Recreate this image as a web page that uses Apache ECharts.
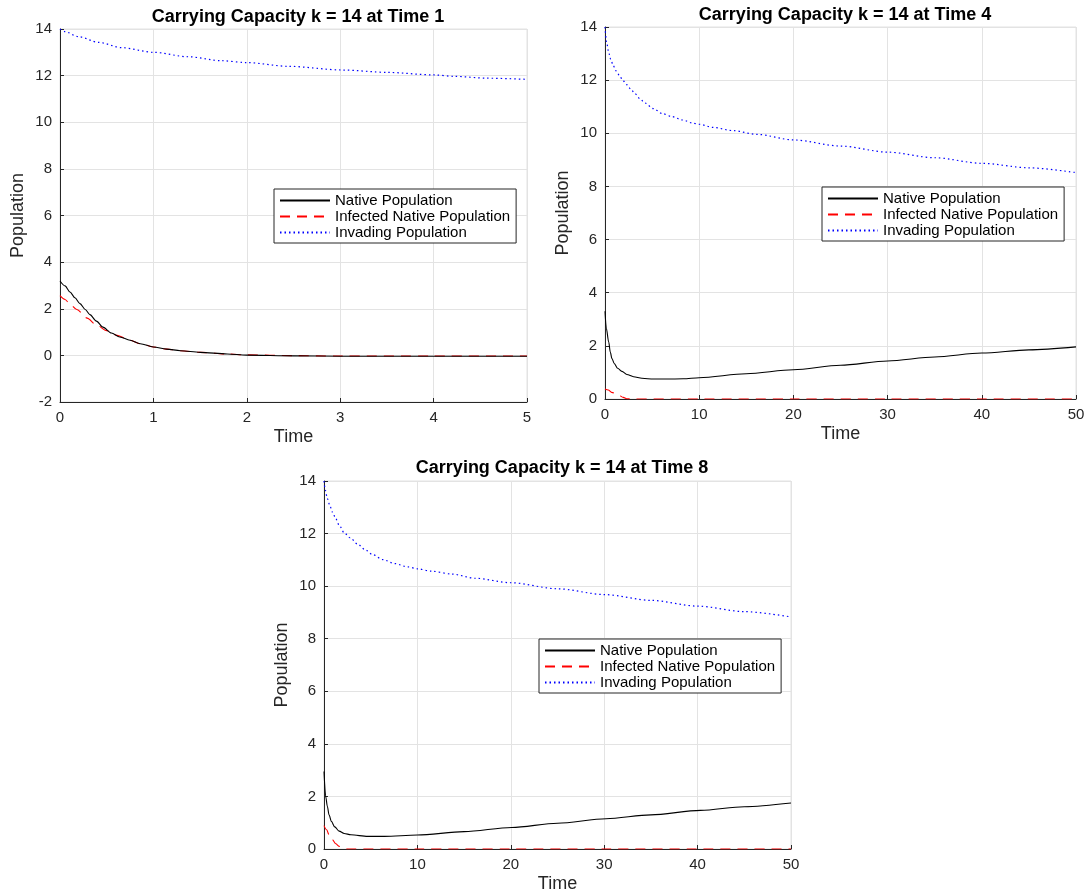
<!DOCTYPE html>
<html>
<head>
<meta charset="utf-8">
<script src="https://cdn.jsdelivr.net/npm/echarts@6/dist/echarts.min.js"></script>
<style>
  html, body { margin: 0; padding: 0; background: #fff; }
  #chart { width: 1091px; height: 894px; }
</style>
</head>
<body>
<div id="chart"></div>
<script>
// Series names and panel titles
const seriesNames = ['Native Population', 'Infected Native Population', 'Invading Population'];
const panelTitles = [
  'Carrying Capacity k = 14 at Time 1',
  'Carrying Capacity k = 14 at Time 4',
  'Carrying Capacity k = 14 at Time 8'
];

// Panel 1: time 0..5
const native1Time   = [0, 0.054, 0.107, 0.16, 0.214, 0.27, 0.32, 0.39, 0.46, 0.55, 0.64, 0.75, 0.86, 1.0, 1.14, 1.29, 1.5, 1.79, 2.0, 2.5, 3.0, 4.0, 5.0];
const native1       = [3.19, 2.98, 2.72, 2.47, 2.22, 1.97, 1.75, 1.47, 1.21, 0.96, 0.79, 0.65, 0.5, 0.36, 0.27, 0.2, 0.13, 0.06, 0.01, -0.02, -0.04, -0.04, -0.04];
const infected1Time = [0, 0.054, 0.107, 0.18, 0.29, 0.39, 0.5, 0.61, 0.75, 0.86, 1.0, 1.14, 1.29, 1.5, 1.79, 2.0, 2.5, 3.0, 4.0, 5.0];
const infected1     = [2.56, 2.4, 2.2, 1.97, 1.6, 1.3, 1.06, 0.86, 0.65, 0.5, 0.36, 0.27, 0.2, 0.13, 0.06, 0.02, -0.01, -0.03, -0.03, -0.03];
const invader1Time  = [0, 0.05, 0.2, 0.41, 0.66, 1.0, 1.37, 1.73, 2.0, 2.44, 3.03, 3.5, 4.0, 4.22, 4.57, 5.0];
const invader1      = [14, 13.89, 13.67, 13.43, 13.2, 13.0, 12.81, 12.64, 12.56, 12.4, 12.24, 12.14, 12.03, 11.97, 11.89, 11.84];

// Panel 2: time 0..50
const native2Time   = [0, 0.14, 0.39, 0.56, 0.74, 0.99, 1.34, 1.8, 2.32, 3.03, 3.92, 5.15, 6.55, 8.3, 10, 15, 20, 25, 30, 35, 40, 45, 50];
const native2       = [3.3, 2.66, 2.15, 1.77, 1.52, 1.33, 1.16, 1.04, 0.92, 0.84, 0.78, 0.75, 0.75, 0.76, 0.8, 0.95, 1.1, 1.27, 1.43, 1.58, 1.73, 1.85, 1.96];
const infected2Time = [0, 0.35, 0.7, 1.4, 1.94, 2.3, 2.8, 10, 20, 30, 40, 50];
const infected2     = [0.38, 0.34, 0.25, 0.16, 0.06, 0.01, 0, 0, 0, 0, 0, 0];
const invader2Time  = [0, 0.18, 0.39, 0.6, 0.88, 1.17, 1.52, 1.87, 2.3, 2.72, 3.18, 3.71, 4.24, 5.12, 6.11, 7.07, 8.23, 9.36, 10, 11.5, 13.6, 16.1, 20, 25, 30, 35, 40, 45, 50];
const invader2      = [14, 13.41, 13.04, 12.79, 12.54, 12.35, 12.19, 12.0, 11.83, 11.67, 11.49, 11.3, 11.14, 10.93, 10.74, 10.63, 10.5, 10.38, 10.34, 10.22, 10.1, 9.96, 9.75, 9.52, 9.29, 9.08, 8.87, 8.7, 8.52];

// Panel 3: time 0..50
const native3Time   = [0, 0.18, 0.36, 0.54, 0.79, 1.15, 1.62, 2.16, 2.88, 4.68, 6.47, 10, 15, 20.1, 25, 30.2, 35, 40.3, 45, 50];
const native3       = [2.95, 2.0, 1.62, 1.3, 1.05, 0.84, 0.68, 0.59, 0.54, 0.48, 0.48, 0.53, 0.66, 0.82, 0.98, 1.15, 1.3, 1.47, 1.61, 1.75];
const infected3Time = [0, 0.29, 0.54, 0.9, 1.26, 1.62, 2.1, 2.5, 10, 20, 30, 40, 50];
const infected3     = [0.89, 0.73, 0.54, 0.35, 0.2, 0.1, 0.03, 0, 0, 0, 0, 0, 0];
const invader3Time  = [0, 0.14, 0.36, 0.61, 0.9, 1.26, 1.62, 2.16, 2.8, 3.6, 4.39, 5.2, 6.3, 7.55, 9.0, 10, 11.5, 13.7, 16.2, 20, 25, 30, 35, 40, 45, 50];
const invader3      = [14, 13.65, 13.33, 13.08, 12.82, 12.57, 12.32, 12.03, 11.84, 11.6, 11.39, 11.2, 11.01, 10.86, 10.73, 10.66, 10.57, 10.46, 10.3, 10.13, 9.9, 9.68, 9.46, 9.24, 9.03, 8.83];

// Axis tick labels
const yTicks1 = [-2, 0, 2, 4, 6, 8, 10, 12, 14];
const yTicks23 = [0, 2, 4, 6, 8, 10, 12, 14];
const xTicks1 = [0, 1, 2, 3, 4, 5];
const xTicks23 = [0, 10, 20, 30, 40, 50];

const FONT = 'Liberation Sans, Arial, Helvetica, sans-serif';
const AXIS_COLOR = '#262626';
const GRID_COLOR = '#e3e3e3';

const zip = (xs, ys) => xs.map((x, i) => [x, ys[i]]);

const panels = [
  { grid: { left: 60, top: 29, width: 467, height: 373 }, titleX: 293, titleY: 3,
    xTicks: xTicks1, yTicks: yTicks1, legend: { left: 274, top: 189 },
    data: [zip(native1Time, native1), zip(infected1Time, infected1), zip(invader1Time, invader1)] },
  { grid: { left: 605, top: 27, width: 471, height: 372 }, titleX: 840, titleY: 1,
    xTicks: xTicks23, yTicks: yTicks23, legend: { left: 822, top: 187 },
    data: [zip(native2Time, native2), zip(infected2Time, infected2), zip(invader2Time, invader2)] },
  { grid: { left: 324, top: 481, width: 467, height: 368 }, titleX: 557, titleY: 454,
    xTicks: xTicks23, yTicks: yTicks23, legend: { left: 539, top: 639 },
    data: [zip(native3Time, native3), zip(infected3Time, infected3), zip(invader3Time, invader3)] }
];

const lineStyles = [
  { color: '#000000', width: 1.1, type: 'solid' },
  { color: '#ff0000', width: 1.1, type: [10, 7] },
  { color: '#0000ff', width: 1.2, type: [1.5, 3] }
];

const option = {
  backgroundColor: '#ffffff',
  animation: false,
  textStyle: { fontFamily: FONT },
  title: panels.map((p, i) => ({
    text: panelTitles[i],
    left: p.titleX, top: p.titleY, textAlign: 'center',
    textStyle: { fontFamily: FONT, fontSize: 18, fontWeight: 'bold', color: '#000' }
  })),
  legend: panels.map((p) => ({
    data: seriesNames,
    left: p.legend.left, top: p.legend.top,
    orient: 'vertical',
    itemWidth: 50, itemHeight: 15, itemGap: 1,
    padding: [4, 6, 3, 5],
    borderColor: AXIS_COLOR, borderWidth: 1,
    backgroundColor: '#ffffff',
    selectedMode: false,
    itemStyle: { opacity: 0 },
    textStyle: { fontFamily: FONT, fontSize: 15, color: '#000', lineHeight: 15 }
  })),
  grid: panels.map((p) => Object.assign({ show: true, borderColor: GRID_COLOR, borderWidth: 1 }, p.grid)),
  xAxis: panels.map((p, i) => ({
    gridIndex: i, type: 'value',
    min: p.xTicks[0], max: p.xTicks[p.xTicks.length - 1], interval: p.xTicks[1] - p.xTicks[0],
    name: 'Time', nameLocation: 'middle', nameGap: 26,
    nameTextStyle: { fontFamily: FONT, fontSize: 18, color: AXIS_COLOR },
    axisLine: { show: true, onZero: false, lineStyle: { color: AXIS_COLOR, width: 1 } },
    axisTick: { show: true, inside: true, length: 4, lineStyle: { color: AXIS_COLOR } },
    axisLabel: { fontFamily: FONT, fontSize: 15, color: AXIS_COLOR, margin: 8 },
    splitLine: { show: true, lineStyle: { color: GRID_COLOR, width: 1 } }
  })),
  yAxis: panels.map((p, i) => ({
    gridIndex: i, type: 'value',
    min: p.yTicks[0], max: p.yTicks[p.yTicks.length - 1], interval: 2,
    name: 'Population', nameLocation: 'middle', nameGap: 33,
    nameTextStyle: { fontFamily: FONT, fontSize: 18, color: AXIS_COLOR },
    axisLine: { show: true, onZero: false, lineStyle: { color: AXIS_COLOR, width: 1 } },
    axisTick: { show: true, inside: true, length: 4, lineStyle: { color: AXIS_COLOR } },
    axisLabel: { fontFamily: FONT, fontSize: 15, color: AXIS_COLOR, margin: 8 },
    splitLine: { show: true, lineStyle: { color: GRID_COLOR, width: 1 } }
  })),
  series: []
};

panels.forEach((p, gi) => {
  seriesNames.forEach((name, si) => {
    option.series.push({
      name: name, type: 'line',
      xAxisIndex: gi, yAxisIndex: gi,
      data: p.data[si],
      showSymbol: false, symbol: 'none',
      smooth: 0.3, smoothMonotone: 'x',
      color: lineStyles[si].color,
      lineStyle: lineStyles[si],
      z: 3 - si
    });
  });
});

const chart = echarts.init(document.getElementById('chart'), null, { renderer: 'canvas' });
chart.setOption(option);
</script>
</body>
</html>
